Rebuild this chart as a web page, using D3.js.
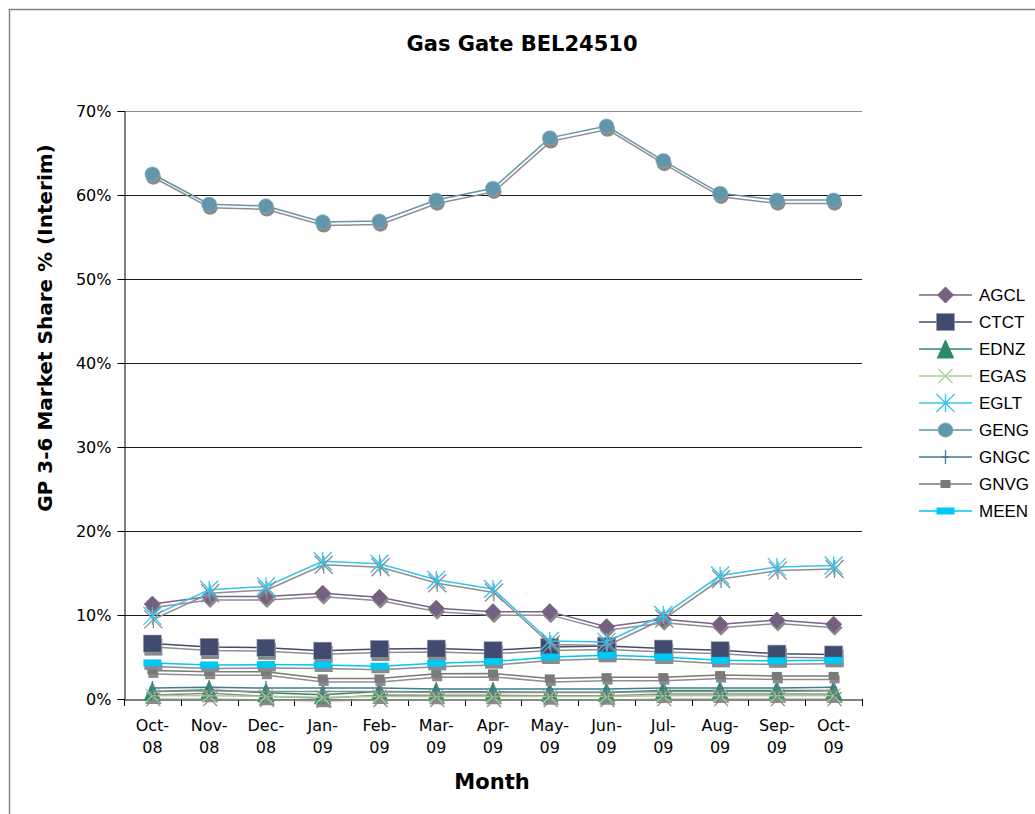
<!DOCTYPE html>
<html><head><meta charset="utf-8">
<script src="https://cdn.jsdelivr.net/npm/d3@7"></script>
<style>html,body{margin:0;padding:0;background:#fff;}svg{display:block;}</style>
</head><body>
<svg id="c" width="1035" height="814"></svg>
<script>
const months = ["Oct-08","Nov-08","Dec-08","Jan-09","Feb-09","Mar-09","Apr-09","May-09","Jun-09","Jul-09","Aug-09","Sep-09","Oct-09"];
const yTicks = [0,0.1,0.2,0.3,0.4,0.5,0.6,0.7];
const seriesNames = ["AGCL","CTCT","EDNZ","EGAS","EGLT","GENG","GNGC","GNVG","MEEN"];
const AGCL = [11.3,12.2,12.2,12.6,12.1,10.8,10.4,10.4,8.6,9.5,8.9,9.4,8.9];
const CTCT = [6.6,6.2,6.1,5.75,5.95,6.0,5.8,6.2,6.3,6.0,5.8,5.4,5.3];
const EDNZ = [0.9,1.1,0.75,0.5,0.9,0.85,0.85,0.8,0.8,1.0,1.0,1.0,1.0];
const EGAS = [0.4,0.4,0.3,0.2,0.3,0.3,0.3,0.3,0.3,0.4,0.4,0.4,0.4];
const EGLT = [9.9,13.0,13.4,16.4,16.1,14.2,13.1,6.9,6.8,10.0,14.7,15.7,15.9];
const GENG = [62.5,58.9,58.7,56.8,56.9,59.4,60.8,66.8,68.2,64.1,60.2,59.4,59.4];
const GNGC = [1.3,1.4,1.3,1.3,1.3,1.2,1.2,1.2,1.2,1.3,1.3,1.3,1.4];
const GNVG = [3.4,3.25,3.25,2.45,2.45,3.0,3.05,2.45,2.6,2.6,2.85,2.75,2.75];
const MEEN = [4.3,4.05,4.1,4.05,3.9,4.25,4.45,5.0,5.2,5.0,4.6,4.55,4.6];
const seriesValues = [AGCL,CTCT,EDNZ,EGAS,EGLT,GENG,GNGC,GNVG,MEEN];

const styles = {
  AGCL:{color:"#7a6586", fill:"#75617f", marker:"diamond", size:16},
  CTCT:{color:"#414b6f", fill:"#414b6f", marker:"square", size:18},
  EDNZ:{color:"#2b8a6b", fill:"#2b8a6b", marker:"triangle", size:18},
  EGAS:{color:"#a6cf8c", fill:"none", marker:"x", size:14},
  EGLT:{color:"#38c4f0", fill:"none", marker:"asterisk", size:18},
  GENG:{color:"#6296ab", fill:"#6296ab", marker:"circle", size:15},
  GNGC:{color:"#3e7e90", fill:"none", marker:"plus", size:14},
  GNVG:{color:"#7a7a7a", fill:"#7a7a7a", marker:"smallsq", size:10},
  MEEN:{color:"#00c8f5", fill:"#00c8f5", marker:"bar", size:18}
};

const svg = d3.select("#c");
const L=124, R=862, T=111, B=699;
const x = d3.scaleBand().domain(months).range([L,R]);
const y = d3.scaleLinear().domain([0,0.7]).range([B,T]);
const cx = m => x(m) + x.bandwidth()/2;

// outer border
svg.append("path").attr("d","M9.5,814 L9.5,9.5 L1035,9.5").attr("fill","none").attr("stroke","#858585").attr("stroke-width",1.5);

// title
svg.append("text").attr("x",522).attr("y",51).attr("text-anchor","middle")
  .attr("font-family","DejaVu Sans, Verdana, sans-serif").attr("font-weight","bold").attr("font-size",21)
  .text("Gas Gate BEL24510");

// gridlines
svg.append("g").selectAll("line").data(yTicks.filter(d=>d>0)).join("line")
  .attr("x1",L).attr("x2",R).attr("y1",d=>Math.round(y(d))+0.5).attr("y2",d=>Math.round(y(d))+0.5)
  .attr("stroke",d=>d===0.7?"#8c8c8c":"#1a1a1a").attr("stroke-width",1);

// y axis
const yAxis = svg.append("g").attr("transform",`translate(${L+0.5},0)`)
  .call(d3.axisLeft(y).tickValues(yTicks).tickFormat(d3.format(".0%")).tickSize(7).tickPadding(6));
yAxis.select(".domain").attr("stroke","#000");
yAxis.selectAll(".tick line").attr("stroke","#000");
yAxis.selectAll("text").attr("font-family","DejaVu Sans, Verdana, sans-serif").attr("font-size",16).attr("fill","#000");

// x axis
const xAxis = svg.append("g").attr("transform",`translate(0,${B+0.5})`)
  .call(d3.axisBottom(x).tickSize(0).tickPadding(12).tickFormat(""));
xAxis.select(".domain").attr("stroke","#000");
const bounds = months.map(m=>x(m)).concat([R]);
svg.append("g").selectAll("line").data(bounds).join("line")
  .attr("x1",d=>Math.round(d)+0.5).attr("x2",d=>Math.round(d)+0.5).attr("y1",B).attr("y2",B+7).attr("stroke","#000");
const xl = svg.append("g").selectAll("text").data(months).join("text")
  .attr("x",d=>cx(d)).attr("y",731).attr("text-anchor","middle")
  .attr("font-family","DejaVu Sans, Verdana, sans-serif").attr("font-size",16).attr("fill","#000");
xl.append("tspan").attr("x",d=>cx(d)).attr("dy",0).text(d=>d.split("-")[0]+"-");
xl.append("tspan").attr("x",d=>cx(d)).attr("dy",22).text(d=>d.split("-")[1]);

// axis titles
svg.append("text").attr("x",492).attr("y",789).attr("text-anchor","middle")
  .attr("font-family","DejaVu Sans, Verdana, sans-serif").attr("font-weight","bold").attr("font-size",21).text("Month");
svg.append("text").attr("transform","translate(52,328) rotate(-90)").attr("text-anchor","middle")
  .attr("font-family","DejaVu Sans, Verdana, sans-serif").attr("font-weight","bold").attr("font-size",20)
  .text("GP 3-6 Market Share % (Interim)");

// marker drawing
function drawMarker(g, type, size, color, fill){
  const h = size/2;
  if(type==="diamond") g.append("path").attr("d",`M0,${-h}L${h},0L0,${h}L${-h},0Z`).attr("fill",fill).attr("stroke",color);
  else if(type==="square") g.append("rect").attr("x",-h).attr("y",-h*0.95).attr("width",size).attr("height",size*0.95).attr("fill",fill).attr("stroke","#9aa0b5").attr("stroke-width",0.6);
  else if(type==="triangle") g.append("path").attr("d",`M0,${-h}L${h*0.9},${h}L${-h*0.9},${h}Z`).attr("fill",fill).attr("stroke",color);
  else if(type==="x") g.append("path").attr("d",`M${-h},${-h}L${h},${h}M${-h},${h}L${h},${-h}`).attr("stroke",color).attr("stroke-width",1.3).attr("fill","none");
  else if(type==="asterisk") g.append("path").attr("d",`M${-h},${-h}L${h},${h}M${-h},${h}L${h},${-h}M0,${-h}L0,${h}`).attr("stroke",color).attr("stroke-width",1.3).attr("fill","none");
  else if(type==="circle") g.append("ellipse").attr("rx",h).attr("ry",h*0.95).attr("fill",fill).attr("stroke","#88b0c0").attr("stroke-width",0.6);
  else if(type==="plus") g.append("path").attr("d",`M0,${-h}L0,${h}M${-h*0.45},0L${h*0.45},0`).attr("stroke",color).attr("stroke-width",1.3).attr("fill","none");
  else if(type==="smallsq") g.append("rect").attr("x",-h).attr("y",-h*0.8).attr("width",size).attr("height",size*0.8).attr("fill",fill);
  else if(type==="bar") g.append("rect").attr("x",-h).attr("y",-3.5).attr("width",size).attr("height",7).attr("fill",fill);
}
function shadowMarker(g, type, size){
  const h=size/2, c="#8a8a8a";
  if(type==="diamond") g.append("path").attr("d",`M0,${-h}L${h},0L0,${h}L${-h},0Z`).attr("fill",c);
  else if(type==="square") g.append("rect").attr("x",-h).attr("y",-h*0.95).attr("width",size).attr("height",size*0.95).attr("fill",c);
  else if(type==="triangle") g.append("path").attr("d",`M0,${-h}L${h*0.9},${h}L${-h*0.9},${h}Z`).attr("fill",c);
  else if(type==="x") g.append("path").attr("d",`M${-h},${-h}L${h},${h}M${-h},${h}L${h},${-h}`).attr("stroke",c).attr("stroke-width",1.3);
  else if(type==="asterisk") g.append("path").attr("d",`M${-h},${-h}L${h},${h}M${-h},${h}L${h},${-h}M0,${-h}L0,${h}`).attr("stroke",c).attr("stroke-width",1.3);
  else if(type==="circle") g.append("ellipse").attr("rx",h).attr("ry",h*0.95).attr("fill",c);
  else if(type==="plus") g.append("path").attr("d",`M0,${-h}L0,${h}M${-h*0.45},0L${h*0.45},0`).attr("stroke",c).attr("stroke-width",1.3);
  else if(type==="smallsq") g.append("rect").attr("x",-h).attr("y",-h*0.8).attr("width",size).attr("height",size*0.8).attr("fill",c);
  else if(type==="bar") g.append("rect").attr("x",-h).attr("y",-3.5).attr("width",size).attr("height",7).attr("fill",c);
}

const line = d3.line().x((d,i)=>cx(months[i])).y(d=>y(d/100));
const plot = svg.append("g");
const SDX=1, SDY=3.5;
seriesNames.forEach((name,si)=>{
  const st = styles[name], vals = seriesValues[si];
  const g = plot.append("g");
  g.append("path").attr("d",line(vals)).attr("transform",`translate(${SDX},${SDY})`)
    .attr("fill","none").attr("stroke","#8e8e8e").attr("stroke-width",1.5);
  g.append("path").attr("d",line(vals)).attr("fill","none").attr("stroke",st.color).attr("stroke-width",1.5);
  vals.forEach((v,i)=>{
    const sg = g.append("g").attr("transform",`translate(${cx(months[i])+SDX},${y(v/100)+SDY})`);
    shadowMarker(sg, st.marker, st.size);
    const mg = g.append("g").attr("transform",`translate(${cx(months[i])},${y(v/100)})`);
    drawMarker(mg, st.marker, st.size, st.color, st.fill);
  });
});

// legend
const lg = svg.append("g");
seriesNames.forEach((name,i)=>{
  const st = styles[name];
  const ly = 295 + i*27;
  lg.append("line").attr("x1",919).attr("x2",972).attr("y1",ly).attr("y2",ly).attr("stroke",st.color).attr("stroke-width",1.5);
  const mg = lg.append("g").attr("transform",`translate(945.5,${ly})`);
  drawMarker(mg, st.marker, st.size, st.color, st.fill);
  lg.append("text").attr("x",979).attr("y",ly+6).attr("font-family","Liberation Sans, Arial, sans-serif")
    .attr("font-size",17).attr("fill","#000").text(name);
});
</script>
</body></html>
